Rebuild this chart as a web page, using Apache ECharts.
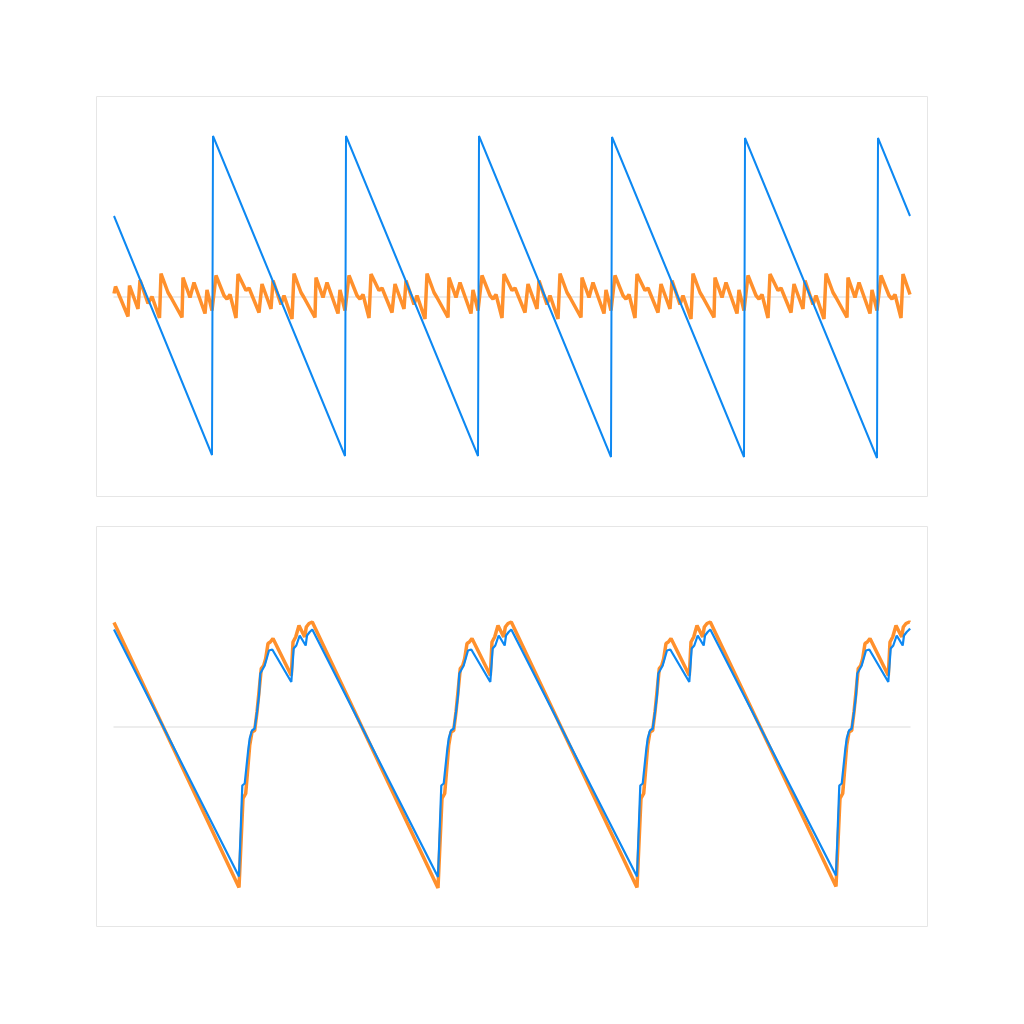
<!DOCTYPE html>
<html>

<head>
    <meta charset="utf-8">
    <script src="https://cdn.jsdelivr.net/npm/echarts@6/dist/echarts.min.js"></script>
    <title>Sawtooth</title>
</head>

<body style="margin:0;background:#fff;">
    <div id="main" style="width:1024px;height:1024px;"></div>
    <script type="text/javascript">
        // points are [x, y]; x runs 0..796, y is symmetric around 0
        var topBlue = [
            [0, 80.5], [98, -158.5], [99, 160.5], [231, -159.5], [232, 160.5], [364, -159.5],
            [365, 160.5], [497, -160.5], [498, 159.5], [630, -160.5], [631, 158.5], [763, -161.5],
            [764, 158.5], [796, 80.5]
        ];

        var topOrange = [
            [0, 3], [1.5, 10], [14, -20], [15.5, 11], [24, -12.5], [26, 16.5], [34, -7], [38, 0], [45.5, -21.5],
            [47, 23], [54, 4], [57, -1], [59, 1], [68, -21], [69, 19], [76, -1], [80, 14], [91, -17], [93, 6.5],
            [98, -14], [102, 21], [110, 1], [113, -2.5], [116, 2], [122, -21.5], [124, 22.5], [132, 6], [135, 8.5],
            [145, -16], [148, 12.5], [157, -12.5], [159, 16], [167, -8], [170, 1], [178, -22.5],
            [180, 23], [187, 4], [190, -1], [192, 1], [201, -21], [202, 19], [209, -1], [213, 14], [224, -17], [226, 6.5],
            [231, -14], [235, 21], [243, 1], [246, -2.5], [249, 2], [255, -21.5], [257, 22.5], [265, 6], [268, 8.5],
            [278, -16], [281, 12.5], [290, -12.5], [292, 16], [300, -8], [303, 1], [311, -22.5],
            [313, 23], [320, 4], [323, -1], [325, 1], [334, -21], [335, 19], [342, -1], [346, 14], [357, -17], [359, 6.5],
            [364, -14], [368, 21], [376, 1], [379, -2.5], [382, 2], [388, -21.5], [390, 22.5], [398, 6], [401, 8.5],
            [411, -16], [414, 12.5], [423, -12.5], [425, 16], [433, -8], [436, 1], [444, -22.5],
            [446, 23], [453, 4], [456, -1], [458, 1], [467, -21], [468, 19], [475, -1], [479, 14], [490, -17], [492, 6.5],
            [497, -14], [501, 21], [509, 1], [512, -2.5], [515, 2], [521, -21.5], [523, 22.5], [531, 6], [534, 8.5],
            [544, -16], [547, 12.5], [556, -12.5], [558, 16], [566, -8], [569, 1], [577, -22.5],
            [579, 23], [586, 4], [589, -1], [591, 1], [600, -21], [601, 19], [608, -1], [612, 14], [623, -17], [625, 6.5],
            [630, -14], [634, 21], [642, 1], [645, -2.5], [648, 2], [654, -21.5], [656, 22.5], [664, 6], [667, 8.5],
            [677, -16], [680, 12.5], [689, -12.5], [691, 16], [699, -8], [702, 1], [710, -22.5],
            [712, 23], [719, 4], [722, -1], [724, 1], [733, -21], [734, 19], [741, -1], [745, 14], [756, -17], [758, 6.5],
            [763, -14], [767, 21], [775, 1], [778, -2.5], [781, 2], [787, -21.5], [789, 22.5], [796, 2]
        ];

        var bottomBlue = [
            [0, 97], [125, -150],
            [128.3, -59], [130.7, -57], [134, -25.5], [135.7, -12], [138, -4], [140.7, -2], [143, 14.5], [145, 31],
            [146.3, 53], [148.3, 55], [150.7, 61], [155, 76], [158.3, 77], [177.3, 44.5], [179.7, 78], [182.3, 81],
            [185.7, 91], [191.7, 81], [193, 91], [195.7, 94.5], [198.3, 97],
            [324, -150.5],
            [327.3, -59], [329.7, -57], [333, -25.5], [334.7, -12], [337, -4], [339.7, -2], [342, 14.5], [344, 31],
            [345.3, 53], [347.3, 55], [349.7, 61], [354, 76], [357.3, 77], [376.3, 44.5], [378.7, 78], [381.3, 81],
            [384.7, 91], [390.7, 81], [392, 91], [394.7, 94.5], [397.3, 97],
            [523, -150],
            [526.3, -59], [528.7, -57], [532, -25.5], [533.7, -12], [536, -4], [538.7, -2], [541, 14.5], [543, 31],
            [544.3, 53], [546.3, 55], [548.7, 61], [553, 76], [556.3, 77], [575.3, 44.5], [577.7, 78], [580.3, 81],
            [583.7, 91], [589.7, 81], [591, 91], [593.7, 94.5], [596.3, 97],
            [722, -149],
            [725.3, -59], [727.7, -57], [731, -25.5], [732.7, -12], [735, -4], [737.7, -2], [740, 14.5], [742, 31],
            [743.3, 53], [745.3, 55], [747.7, 61], [752, 76], [755.3, 77], [774.3, 44.5], [776.7, 78], [779.3, 81],
            [782.7, 91], [788.7, 81], [790, 91], [792.7, 94.5], [795.3, 97], [796, 98]
        ];

        var bottomOrange = [
            [0, 104], [125, -161],
            [129, -72], [131.7, -67], [135.7, -19], [138, -5.5], [140.7, -4], [143, 14.5], [147.3, 58], [149.7, 61],
            [151.7, 68], [154, 83], [156.3, 84.5], [159, 88], [177.3, 51], [179, 84.5], [181.7, 89.5], [185, 101],
            [190.7, 89.5], [192.3, 99.5], [195, 103], [198.3, 104.5],
            [324, -161.5],
            [328, -72], [330.7, -67], [334.7, -19], [337, -5.5], [339.7, -4], [342, 14.5], [346.3, 58], [348.7, 61],
            [350.7, 68], [353, 83], [355.3, 84.5], [358, 88], [376.3, 51], [378, 84.5], [380.7, 89.5], [384, 101],
            [389.7, 89.5], [391.3, 99.5], [394, 103], [397.3, 104.5],
            [523, -161],
            [527, -72], [529.7, -67], [533.7, -19], [536, -5.5], [538.7, -4], [541, 14.5], [545.3, 58], [547.7, 61],
            [549.7, 68], [552, 83], [554.3, 84.5], [557, 88], [575.3, 51], [577, 84.5], [579.7, 89.5], [583, 101],
            [588.7, 89.5], [590.3, 99.5], [593, 103], [596.3, 104.5],
            [722, -160],
            [726, -72], [728.7, -67], [732.7, -19], [735, -5.5], [737.7, -4], [740, 14.5], [744.3, 58], [746.7, 61],
            [748.7, 68], [751, 83], [753.3, 84.5], [756, 88], [774.3, 51], [776, 84.5], [778.7, 89.5], [782, 101],
            [787.7, 89.5], [789.3, 99.5], [792, 103], [795.3, 104.5], [796, 104]
        ];

        var blue = '#0d88f2';
        var orange = '#ff902c';
        var frameColor = '#e6e6e6';

        function makeX(gridIndex) {
            return {
                type: 'value',
                gridIndex: gridIndex,
                min: 0,
                max: 796,
                axisLine: {
                    show: true,
                    onZero: true,
                    lineStyle: { color: '#e8e8e8', width: 1.5 }
                },
                axisTick: { show: false },
                axisLabel: { show: false },
                splitLine: { show: false }
            };
        }

        function makeY(gridIndex) {
            return {
                type: 'value',
                gridIndex: gridIndex,
                min: -182.5,
                max: 182.5,
                axisLine: { show: false },
                axisTick: { show: false },
                axisLabel: { show: false },
                splitLine: { show: false }
            };
        }

        function lineSeries(axisIndex, data, color, width) {
            return {
                type: 'line',
                xAxisIndex: axisIndex,
                yAxisIndex: axisIndex,
                data: data,
                showSymbol: false,
                symbol: 'none',
                lineStyle: { color: color, width: width },
                itemStyle: { color: color }
            };
        }

        var myChart = echarts.init(document.getElementById('main'));

        myChart.setOption({
            animation: false,
            backgroundColor: '#ffffff',
            graphic: [{
                type: 'rect',
                shape: { x: 96.5, y: 96.5, width: 831, height: 400 },
                style: { fill: 'none', stroke: frameColor, lineWidth: 1 },
                silent: true
            }, {
                type: 'rect',
                shape: { x: 96.5, y: 526.5, width: 831, height: 400 },
                style: { fill: 'none', stroke: frameColor, lineWidth: 1 },
                silent: true
            }],
            grid: [{
                left: 114,
                right: 114,
                top: 114,
                height: 365
            }, {
                left: 114,
                right: 114,
                top: 544,
                height: 365
            }],
            xAxis: [makeX(0), makeX(1)],
            yAxis: [makeY(0), makeY(1)],
            series: [
                lineSeries(0, topOrange, orange, 3.5),
                lineSeries(0, topBlue, blue, 2),
                lineSeries(1, bottomOrange, orange, 3.5),
                lineSeries(1, bottomBlue, blue, 2.2)
            ]
        });
    </script>
</body>

</html>
